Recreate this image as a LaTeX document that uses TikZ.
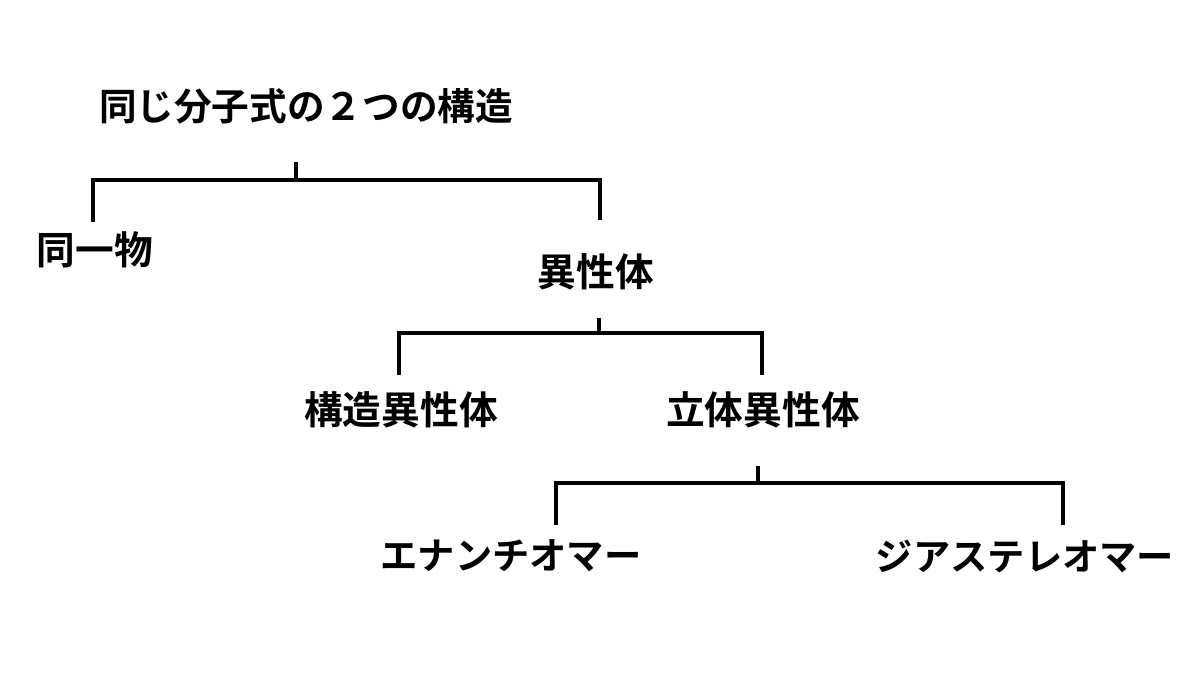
\documentclass[tikz,border=0pt]{standalone}
\usepackage{fontspec}
\setmainfont{Noto Sans CJK JP}[BoldFont={Noto Sans CJK JP Bold}]
\begin{document}
\begin{tikzpicture}[x=0.01cm,y=-0.01cm,
  lbl/.style={inner sep=0pt,font=\fontsize{10.6pt}{13pt}\selectfont\bfseries},
  klbl/.style={inner sep=0pt,font=\fontsize{11pt}{13pt}\selectfont\bfseries},
  br/.style={line width=0.9pt,line cap=butt,line join=miter}]
\useasboundingbox (0,0) rectangle (1200,675);
\fill[white] (0,0) rectangle (1200,675);
% nodes
\node[lbl,font=\fontsize{10.7pt}{13pt}\selectfont\bfseries] (root) at (306,106) {同じ分子式の２つの構造};
\node[klbl] (same) at (95,250) {同一物};
\node[klbl] (iso) at (596,272) {異性体};
\node[klbl] (struct) at (401,410) {構造異性体};
\node[klbl] (stereo) at (763,410) {立体異性体};
\node[lbl] (enan) at (511,556) {エナンチオマー};
\node[lbl] (dia) at (1025,556) {ジアステレオマー};
% bracket 1
\coordinate (s1) at (296,162);
\coordinate (j1) at (296,180);
\coordinate (l1a) at (93,180);
\coordinate (l1b) at (93,222);
\coordinate (r1a) at (600,180);
\coordinate (r1b) at (600,220);
\draw[br] (s1) -- (j1);
\draw[br] (l1b) -- (l1a) -- (r1a) -- (r1b);
% bracket 2
\coordinate (s2) at (599,318);
\coordinate (j2) at (599,333);
\coordinate (l2a) at (399,333);
\coordinate (l2b) at (399,375);
\coordinate (r2a) at (762,333);
\coordinate (r2b) at (762,375);
\draw[br] (s2) -- (j2);
\draw[br] (l2b) -- (l2a) -- (r2a) -- (r2b);
% bracket 3
\coordinate (s3) at (758,466);
\coordinate (j3) at (758,483);
\coordinate (l3a) at (556,483);
\coordinate (l3b) at (556,525);
\coordinate (r3a) at (1063,483);
\coordinate (r3b) at (1063,525);
\draw[br] (s3) -- (j3);
\draw[br] (l3b) -- (l3a) -- (r3a) -- (r3b);
\end{tikzpicture}
\end{document}
